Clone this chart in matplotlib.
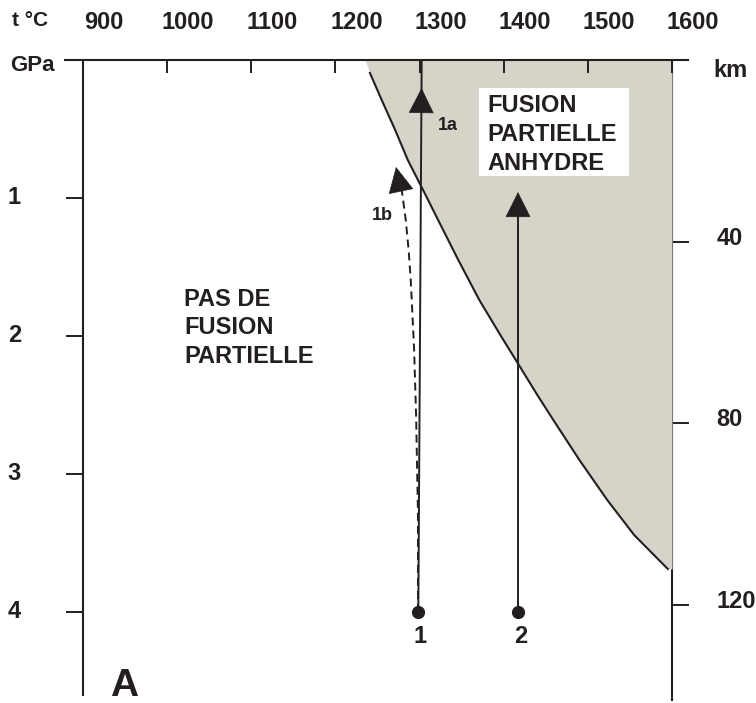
import matplotlib
matplotlib.use("Agg")
import matplotlib.pyplot as plt
from matplotlib.patches import Rectangle
from matplotlib.transforms import ScaledTranslation

plt.rcParams["font.family"] = ["Liberation Sans", "DejaVu Sans"]
plt.rcParams["font.weight"] = "bold"

# data: temperature (°C) vs pressure (GPa)
temp_ticks = [900, 1000, 1100, 1200, 1300, 1400, 1500, 1600]
gpa_ticks = [1, 2, 3, 4]
km_ticks = [40, 80, 120]
KM_PER_GPA = 30.4

# anhydrous solidus
solidus_T = [1235, 1241, 1255, 1271, 1286, 1303, 1322, 1346, 1371, 1396,
             1418, 1440, 1459, 1490, 1523, 1555, 1595]
solidus_P = [0.0, 0.094, 0.290, 0.507, 0.725, 0.928, 1.159, 1.449, 1.739, 1.993,
             2.210, 2.428, 2.609, 2.899, 3.188, 3.442, 3.688]

# ascent paths
path1a_T = [1298.5, 1302.5]
path1a_P = [4.0, 0.0]
path1b_T = [1298.1, 1298.1, 1297.3, 1295.8, 1293.4, 1289.5, 1287.0, 1283.6, 1278.8]
path1b_P = [4.0, 3.283, 3.043, 2.558, 2.080, 1.594, 1.377, 1.159, 0.942]
path2_T = [1417, 1417]
path2_P = [4.0, 1.12]
start_T = [1298, 1417]
start_P = [4.0, 4.0]
start_labels = ["1", "2"]

dark = "#231f20"
grey = "#d6d4c9"
fs = 17

fig = plt.figure(figsize=(7.56, 7.03), dpi=100)
ax = fig.add_axes([83 / 756, 3 / 703, 589 / 756, 640 / 703])
ax.set_xlim(900, 1600)
ax.set_ylim(640 / 138, 0)

# melting domain
ax.fill_betweenx(solidus_P, solidus_T, 1600, color=grey, lw=0, zorder=1)
ax.plot(solidus_T[1:], solidus_P[1:], color=dark, lw=1.5, zorder=2)

# paths
ax.plot(path1a_T, path1a_P, color=dark, lw=1.4, zorder=3)
ax.plot(path2_T, path2_P, color=dark, lw=1.4, zorder=3)
ax.plot(path1b_T, path1b_P, color=dark, lw=1.4, dashes=(4.1, 2.6), zorder=3)
ax.plot(start_T, start_P, "o", ms=8.5, color=dark, zorder=4)

heads = [((1302.4, 0.203), (1302.0, 0.362)),
         ((1417, 0.957), (1417, 1.123)),
         ((1272, 0.775), (1277.3, 0.931))]
for tip, base in heads:
    ax.annotate("", xy=tip, xytext=base,
                arrowprops=dict(arrowstyle="-|>,head_length=0.4,head_width=0.2",
                                mutation_scale=43, shrinkA=0, shrinkB=0,
                                color=dark, lw=0.5), zorder=4)

for t, lab in zip(start_T, start_labels):
    ax.text(t + 3, 4.225, lab, fontsize=fs, color=dark, ha="center", va="baseline")
ax.text(1321.5, 0.507, "1a", fontsize=13, color=dark, ha="left", va="baseline")
ax.text(1243, 1.159, "1b", fontsize=13, color=dark, ha="left", va="baseline")

# region labels
ax.add_patch(Rectangle((1370.6, 0.203), 178.3, 0.638, facecolor="white",
                       edgecolor="none", zorder=5))
for line, p in zip(["FUSION", "PARTIELLE", "ANHYDRE"], [0.377, 0.587, 0.797]):
    ax.text(1381, p, line, fontsize=fs, color=dark, ha="left", va="baseline", zorder=6)
for line, p in zip(["PAS DE", "FUSION", "PARTIELLE"], [1.783, 1.986, 2.196]):
    ax.text(1020, p, line, fontsize=fs, color=dark, ha="left", va="baseline")

ax.text(932, 4.61, "A", fontsize=28, color=dark, ha="left", va="baseline", clip_on=False)

# frame
ax.spines["top"].set_visible(False)
ax.spines["bottom"].set_visible(False)
ax.spines["right"].set_visible(False)
ax.spines["left"].set_color(dark)
ax.spines["left"].set_linewidth(1.5)
ax.spines["left"].set_bounds(0, (695 - 60) / 138)
ax.axhline(0, xmin=-0.0306, xmax=1.0272, color=dark, lw=1.5, clip_on=False, zorder=5)

# temperature axis on top
ax.xaxis.tick_top()
ax.set_xticks(temp_ticks)
ax.set_xticklabels([str(t) for t in temp_ticks])
ax.tick_params(axis="x", direction="in", length=9.4, width=1.4, color=dark,
               pad=19, labelsize=fs, labelcolor=dark)
ax.xaxis.set_label_position("top")
ax.set_xlabel("t °C", fontsize=15, fontweight="bold", color=dark)
ax.xaxis.set_label_coords(-0.1205, 1.061)
ax.xaxis.label.set_ha("left")
ax.xaxis.label.set_va("center")

# pressure axis
ax.set_yticks(gpa_ticks)
ax.set_yticklabels([str(p) for p in gpa_ticks])
ax.tick_params(axis="y", direction="out", length=12.2, width=1.4, color=dark,
               pad=32.4, labelsize=fs, labelcolor=dark)
ax.set_ylabel("GPa", rotation=0, fontsize=16, fontweight="bold", color=dark,
              ha="left", va="center")
ax.yaxis.set_label_coords(-0.124, 0.992)

# depth axis
secax = ax.secondary_yaxis("right", functions=(lambda p: p * KM_PER_GPA,
                                               lambda k: k / KM_PER_GPA))
secax.set_yticks(km_ticks)
secax.tick_params(axis="y", direction="out", length=12.2, width=1.4, color=dark,
                  pad=20, labelsize=fs, labelcolor=dark)
secax.spines["right"].set_color(dark)
secax.spines["right"].set_linewidth(1.5)
secax.set_ylabel("km", rotation=0, fontsize=fs, fontweight="bold", color=dark,
                 ha="left", va="center")
secax.yaxis.set_label_coords(1.0696, 0.984, transform=ax.transAxes)

# nudge tick labels like the original drawing
for lab in ax.get_xticklabels():
    lab.set_transform(lab.get_transform() + ScaledTranslation(0.21, 0, fig.dpi_scale_trans))
for lab in ax.get_yticklabels():
    lab.set_transform(lab.get_transform() + ScaledTranslation(0, 0.03, fig.dpi_scale_trans))
for lab in secax.get_yticklabels():
    lab.set_transform(lab.get_transform() + ScaledTranslation(0, 0.06, fig.dpi_scale_trans))

fig.savefig("out.png", dpi=100)
